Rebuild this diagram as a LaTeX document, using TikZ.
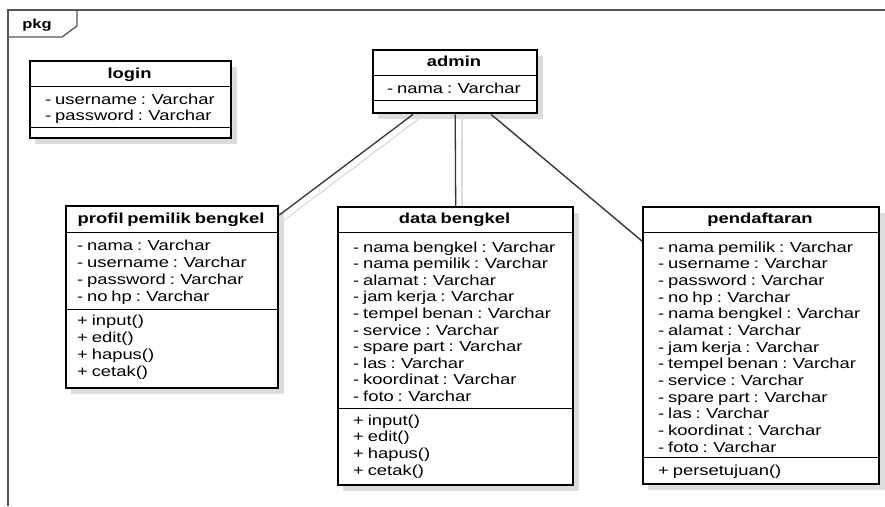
\documentclass[tikz,border=0pt]{standalone}
\usepackage{fontspec}
\setmainfont[FakeStretch=1.27, WordSpace=0.75]{Liberation Sans}
\usetikzlibrary{calc}

\definecolor{shadowgray}{HTML}{DCDCDC}
\definecolor{framegray}{HTML}{555555}
\definecolor{linkgray}{HTML}{333333}

\tikzset{
  umlbox/.style={draw=black, line width=2.4pt, fill=white, inner sep=0pt,
                 anchor=north west},
  boxshadow/.style={fill=shadowgray},
  sepline/.style={draw=black, line width=0.9pt},
  ttl/.style={font=\fontsize{14.5pt}{17pt}\selectfont\bfseries, inner sep=0pt, anchor=base},
  attr/.style={font=\fontsize{14.5pt}{17pt}\selectfont, inner sep=0pt, anchor=base west},
  link/.style={draw=linkgray, line width=1.3pt},
  linkshadow/.style={draw=shadowgray, line width=1.3pt},
}

\begin{document}
\begin{tikzpicture}[x=1pt,y=-1pt]
\useasboundingbox (0,0) rectangle (885,506);

% package frame with its name tab
\draw[framegray, line width=1.8pt] (885,10) -- (8,10) -- (8,506);
\draw[framegray, line width=1.3pt] (8,37) -- (62,37) -- (77,26) -- (77,10);
\node[ttl, font=\fontsize{13pt}{15pt}\selectfont\bfseries] (pkgname) at (37,28) {pkg};

% shadows of the associations
\draw[linkshadow] (420,118) -- (283,221);
\draw[linkshadow] (462,118) -- (462,212);
\draw[linkshadow] (497,118) -- (648,247);

% shadows of the classes
\fill[boxshadow] (35,67) rectangle (237,144);
\fill[boxshadow] (378,56) rectangle (543,119);
\fill[boxshadow] (71,212) rectangle (284,394);
\fill[boxshadow] (343,213) rectangle (579,491);
\fill[boxshadow] (648,213) rectangle (885,490);

% class boxes
\node[umlbox, minimum width=164pt, minimum height=63pt] (admin) at (372,49) {};
\node[umlbox, minimum width=212pt, minimum height=182pt] (profil) at (65,205) {};
\node[umlbox, minimum width=235pt, minimum height=278pt] (data) at (337,206) {};
\node[umlbox, minimum width=236pt, minimum height=277pt] (daftar) at (642,206) {};
\node[umlbox, minimum width=201pt, minimum height=77pt] (login) at (29,60) {};

% associations
\draw[link] ($(admin.south west)+(41,0)$) -- ($(profil.north east)+(0,10)$);
\draw[link] (admin.south) -- (data.north);
\draw[link] ($(admin.south west)+(119,0)$) -- ($(daftar.north west)+(0,35)$);

% login
\draw[sepline] (login.west |- 0,86) -- (login.east |- 0,86);
\draw[sepline] (login.west |- 0,127) -- (login.east |- 0,127);
\node[ttl] (login-t) at (129.5,78) {login};
\foreach \t [count=\i from 0] in {- username : Varchar, - password : Varchar}
  \node[attr] (login-a\i) at (45,{104+16.8*\i}) {\t};

% admin
\draw[sepline] (admin.west |- 0,75) -- (admin.east |- 0,75);
\draw[sepline] (admin.west |- 0,100) -- (admin.east |- 0,100);
\node[ttl] (admin-t) at (454,66.5) {admin};
\node[attr] (admin-a0) at (387,93) {- nama : Varchar};

% profil pemilik bengkel
\draw[sepline] (profil.west |- 0,232) -- (profil.east |- 0,232);
\draw[sepline] (profil.west |- 0,309) -- (profil.east |- 0,309);
\node[ttl] (profil-t) at (171,223.5) {profil pemilik bengkel};
\foreach \t [count=\i from 0] in {- nama : Varchar, - username : Varchar,
    - password : Varchar, - no hp : Varchar}
  \node[attr] (profil-a\i) at (77,{250+17*\i}) {\t};
\foreach \t [count=\i from 0] in {+ input(), + edit(), + hapus(), + cetak()}
  \node[attr] (profil-m\i) at (77,{325+17.3*\i}) {\t};

% data bengkel
\draw[sepline] (data.west |- 0,232) -- (data.east |- 0,232);
\draw[sepline] (data.west |- 0,408) -- (data.east |- 0,408);
\node[ttl] (data-t) at (454.5,223.5) {data bengkel};
\foreach \t [count=\i from 0] in {- nama bengkel : Varchar, - nama pemilik : Varchar,
    - alamat : Varchar, - jam kerja : Varchar, - tempel benan : Varchar,
    - service : Varchar, - spare part : Varchar, - las : Varchar,
    - koordinat : Varchar, - foto : Varchar}
  \node[attr] (data-a\i) at (353,{252+16.6*\i}) {\t};
\foreach \t [count=\i from 0] in {+ input(), + edit(), + hapus(), + cetak()}
  \node[attr] (data-m\i) at (353,{425+16.7*\i}) {\t};

% pendaftaran
\draw[sepline] (daftar.west |- 0,232) -- (daftar.east |- 0,232);
\draw[sepline] (daftar.west |- 0,457) -- (daftar.east |- 0,457);
\node[ttl] (daftar-t) at (760,223.5) {pendaftaran};
\foreach \t [count=\i from 0] in {- nama pemilik : Varchar, - username : Varchar,
    - password : Varchar, - no hp : Varchar, - nama bengkel : Varchar,
    - alamat : Varchar, - jam kerja : Varchar, - tempel benan : Varchar,
    - service : Varchar, - spare part : Varchar, - las : Varchar,
    - koordinat : Varchar, - foto : Varchar}
  \node[attr] (daftar-a\i) at (658,{252+16.67*\i}) {\t};
\node[attr] (daftar-m0) at (658,475) {+ persetujuan()};
\end{tikzpicture}
\end{document}
